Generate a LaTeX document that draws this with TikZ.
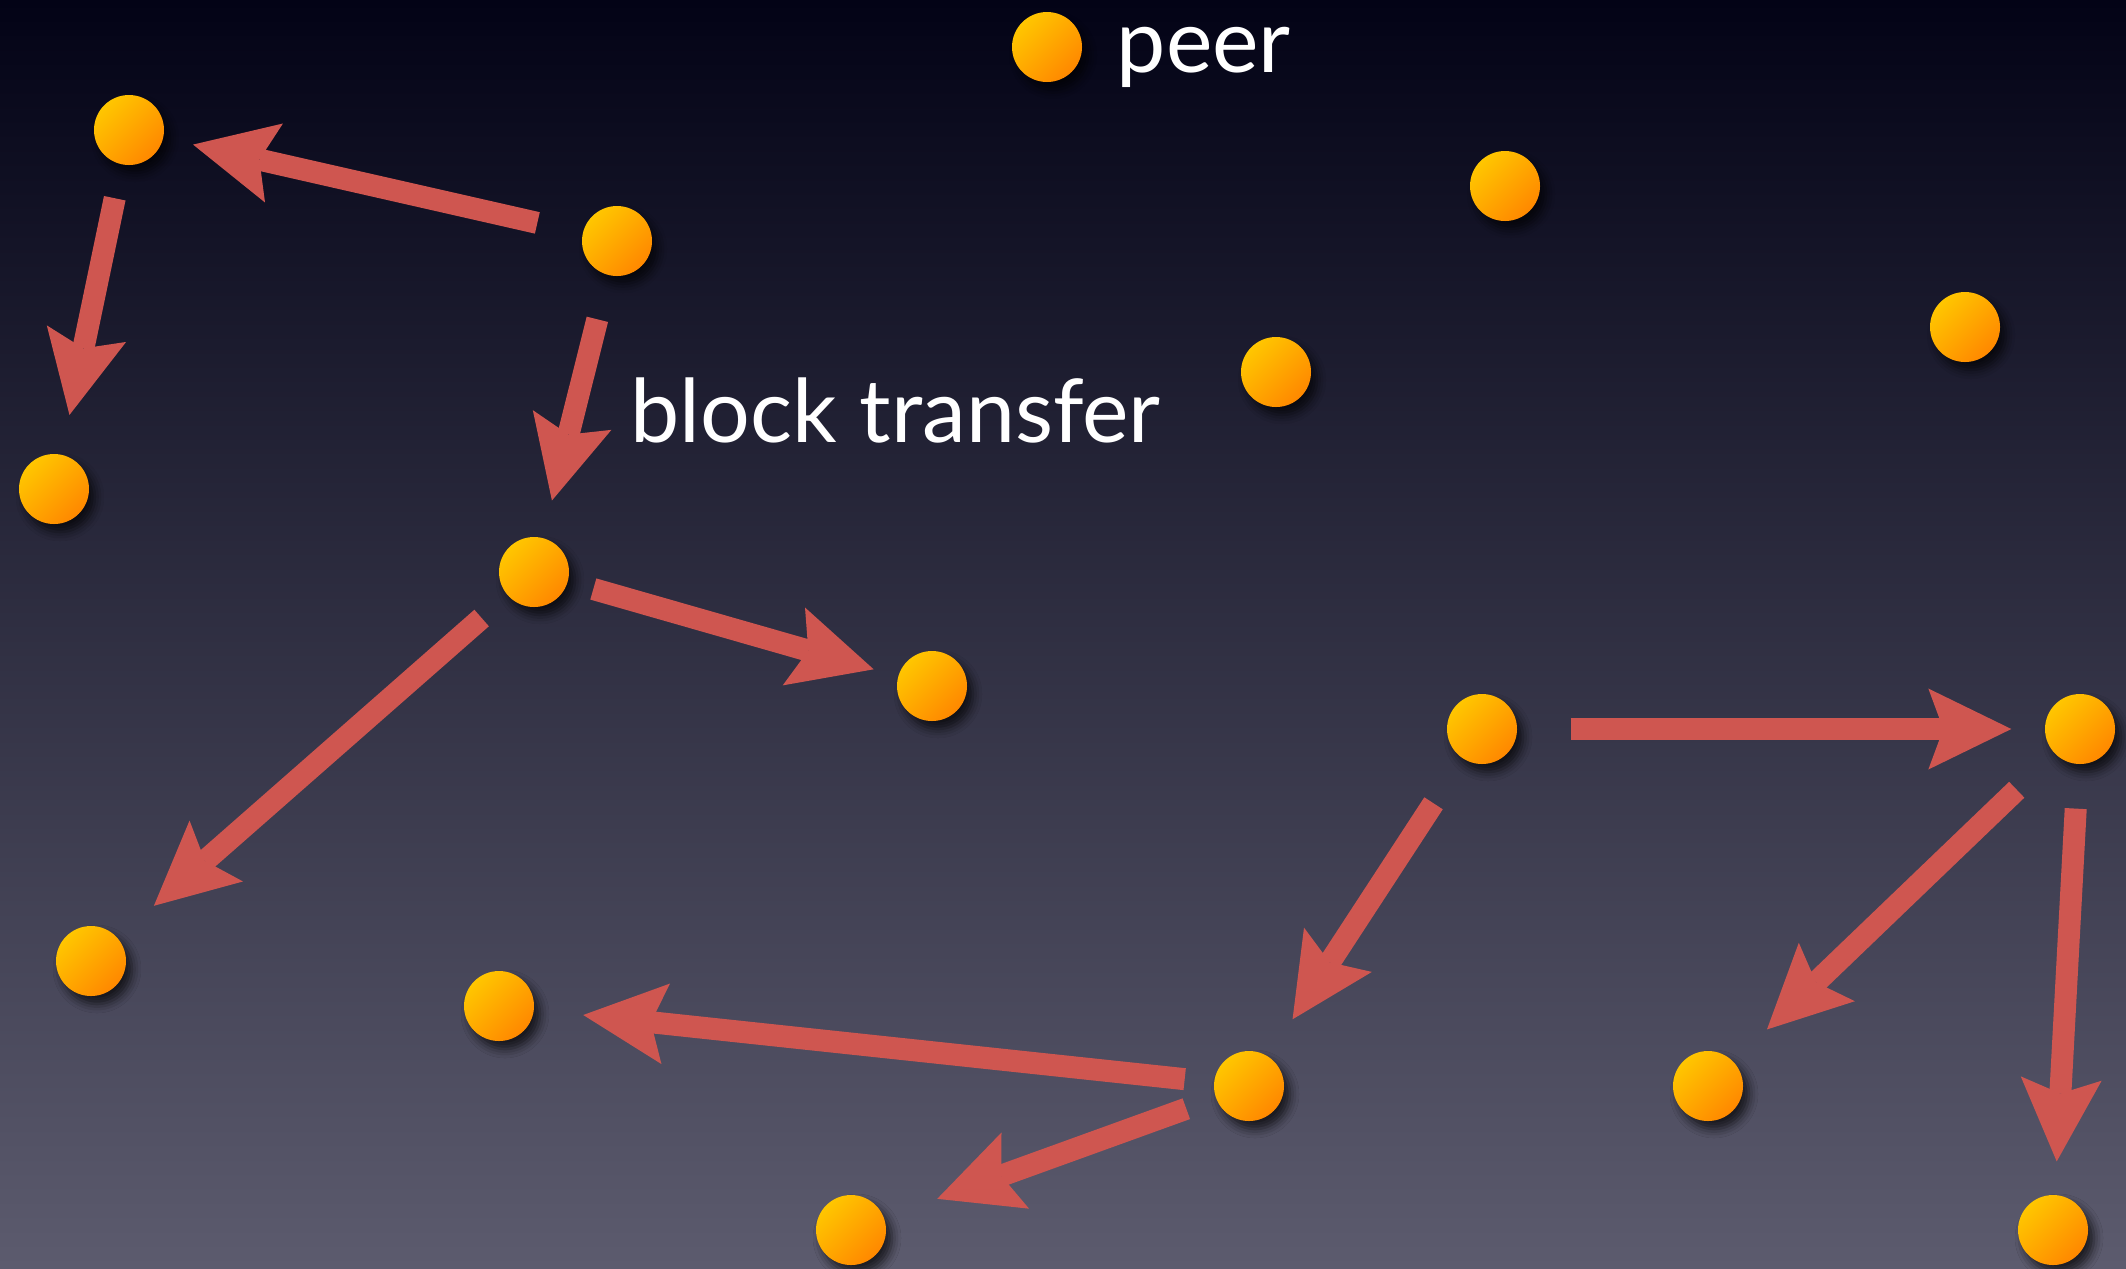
\documentclass[tikz,border=0pt]{standalone}
\usepackage{fontspec}
\setmainfont{Lato}
\usepackage{tikz}
\usetikzlibrary{arrows.meta,shadows.blur}

\definecolor{skytop}{RGB}{3,3,22}
\definecolor{skymid}{RGB}{33,34,58}
\definecolor{skybot}{RGB}{92,91,110}
\definecolor{dotlight}{RGB}{255,198,0}
\definecolor{dotdark}{RGB}{255,136,0}
\definecolor{transfer}{RGB}{207,86,80}

\tikzset{
  peer/.style={circle,minimum size=7mm,inner sep=0pt,
    shading=axis,top color=dotlight,bottom color=dotdark,shading angle=45,
    blur shadow={shadow xshift=0.6mm,shadow yshift=-0.8mm,
      shadow blur radius=0.9mm,shadow opacity=70}},
  gap/.style 2 args={shorten <=#1mm,shorten >=#2mm},
  caption/.style={text=white,inner sep=0pt,anchor=base west,
    font=\fontsize{25}{30}\selectfont}
}

\begin{document}
\begin{tikzpicture}[x=0.1mm,y=-0.1mm,
    >={Stealth[length=8.3mm,width=8.1mm,inset=1.5mm,line width=0pt]}]

  \useasboundingbox (0,0) rectangle (2126,1268);
  \shade[top color=skytop,middle color=skymid,bottom color=skybot]
    (0,0) rectangle (2126,1268);

  % legend
  \node[peer]    (key)  at (1047,  47) {};
  \node[caption] (name) at (1116,  72) {peer};

  \node[peer] (A) at ( 129,  130) {};
  \node[peer] (B) at ( 617,  241) {};
  \node[peer] (C) at (1505,  186) {};
  \node[peer] (D) at (1965,  327) {};
  \node[peer] (E) at (1276,  372) {};
  \node[peer] (F) at (  54,  489) {};
  \node[peer] (G) at ( 534,  572) {};
  \node[peer] (H) at ( 932,  686) {};
  \node[peer] (I) at (1482,  729) {};
  \node[peer] (J) at (2080,  729) {};
  \node[peer] (K) at (  91,  961) {};
  \node[peer] (L) at ( 499, 1006) {};
  \node[peer] (M) at (1249, 1086) {};
  \node[peer] (N) at (1708, 1086) {};
  \node[peer] (O) at ( 851, 1230) {};
  \node[peer] (P) at (2053, 1230) {};

  \node[caption] (label) at (630, 442) {block transfer};

  \path[->,color=transfer,line width=2.2mm]
        (B) edge [gap={4.6}{3.0}] (A)
            edge [gap={4.5}{3.8}] (G)
        (A) edge [gap={3.4}{4.0}] (F)
        (G) edge [gap={2.6}{2.5}] (H)
            edge [gap={3.4}{4.8}] (K)
        (I) edge [gap={5.3}{3.3}] (J)
            edge [gap={5.3}{4.4}] (M)
        (J) edge [gap={5.2}{4.6}] (N)
            edge [gap={4.4}{3.3}] (P)
        (M) edge [gap={2.9}{4.9}] (L)
            edge [gap={3.1}{5.6}] (O);
\end{tikzpicture}
\end{document}
